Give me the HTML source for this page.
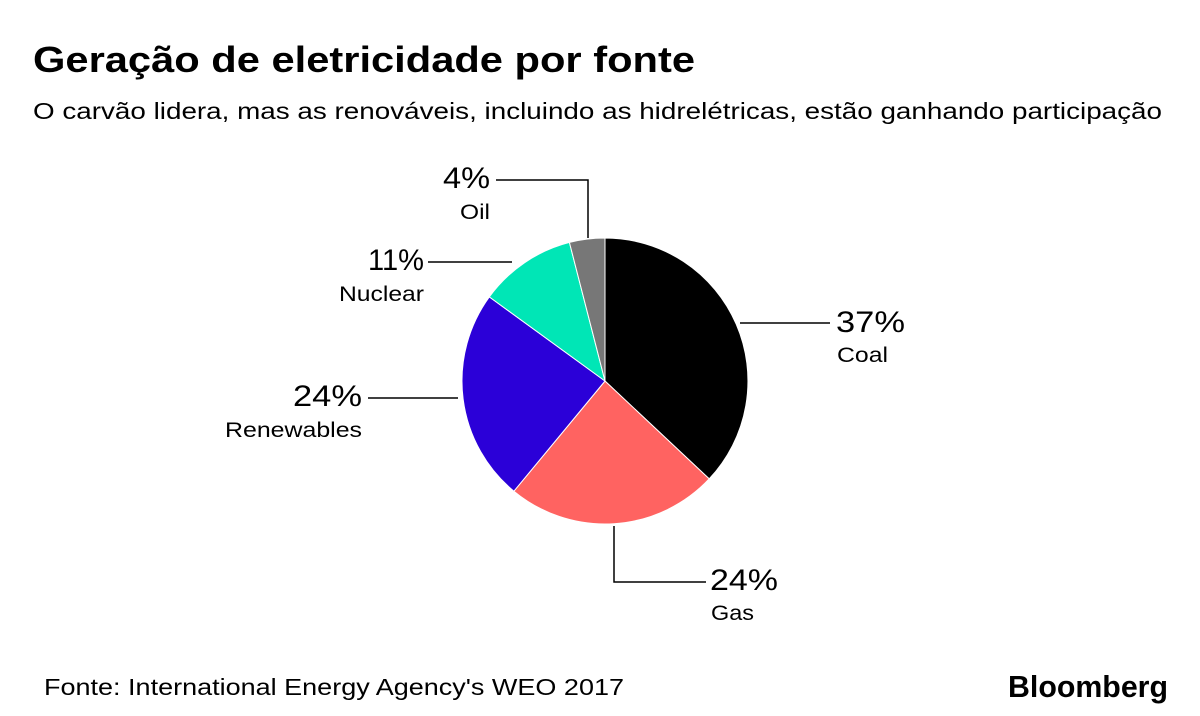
<!DOCTYPE html>
<html><head><meta charset="utf-8"><style>
body{margin:0;background:#fff;}
svg{display:block;font-family:"Liberation Sans",sans-serif;}
</style></head><body>
<svg width="1200" height="716" viewBox="0 0 1200 716">
<rect width="1200" height="716" fill="#fff"/>
<text x="33" y="72" font-size="36" font-weight="bold" fill="#000" textLength="662" lengthAdjust="spacingAndGlyphs">Geração de eletricidade por fonte</text>
<text x="33" y="119" font-size="23" fill="#000" textLength="1129" lengthAdjust="spacingAndGlyphs">O carvão lidera, mas as renováveis, incluindo as hidrelétricas, estão ganhando participação</text>
<g stroke="#fff" stroke-width="1">
<path d="M605,381 L605,238 A143,143 0 0 1 709.2,478.9 Z" fill="#000"/>
<path d="M605,381 L709.2,478.9 A143,143 0 0 1 513.9,491.2 Z" fill="#ff6361"/>
<path d="M605,381 L513.9,491.2 A143,143 0 0 1 489.3,296.9 Z" fill="#2b00d8"/>
<path d="M605,381 L489.3,296.9 A143,143 0 0 1 569.4,242.4 Z" fill="#00e6b6"/>
<path d="M605,381 L569.4,242.4 A143,143 0 0 1 605,238 Z" fill="#777"/>
</g>
<g stroke="#000" stroke-width="1.5" fill="none">
<path d="M740,323 H830"/>
<path d="M614,526 V582 H706"/>
<path d="M368,398 H458"/>
<path d="M428,262 H512"/>
<path d="M496,180 H588 V238"/>
</g>
<g fill="#000">
<text x="836" y="332" font-size="30" textLength="69" lengthAdjust="spacingAndGlyphs">37%</text>
<text x="837" y="362" font-size="21" textLength="51" lengthAdjust="spacingAndGlyphs">Coal</text>
<text x="710" y="590" font-size="30" textLength="68" lengthAdjust="spacingAndGlyphs">24%</text>
<text x="711" y="620" font-size="21" textLength="43" lengthAdjust="spacingAndGlyphs">Gas</text>
<text x="293" y="406" font-size="30" textLength="69" lengthAdjust="spacingAndGlyphs">24%</text>
<text x="225" y="437" font-size="21" textLength="137" lengthAdjust="spacingAndGlyphs">Renewables</text>
<text x="368" y="270" font-size="30" textLength="56" lengthAdjust="spacingAndGlyphs">11%</text>
<text x="339" y="301" font-size="21" textLength="85" lengthAdjust="spacingAndGlyphs">Nuclear</text>
<text x="443" y="188" font-size="30" textLength="47" lengthAdjust="spacingAndGlyphs">4%</text>
<text x="460" y="219" font-size="21" textLength="30" lengthAdjust="spacingAndGlyphs">Oil</text>
<text x="44" y="695" font-size="23" textLength="580" lengthAdjust="spacingAndGlyphs">Fonte: International Energy Agency's WEO 2017</text>
<text x="1008" y="697" font-size="31" font-weight="bold" textLength="160" lengthAdjust="spacingAndGlyphs">Bloomberg</text>
</g>
</svg>
</body></html>
